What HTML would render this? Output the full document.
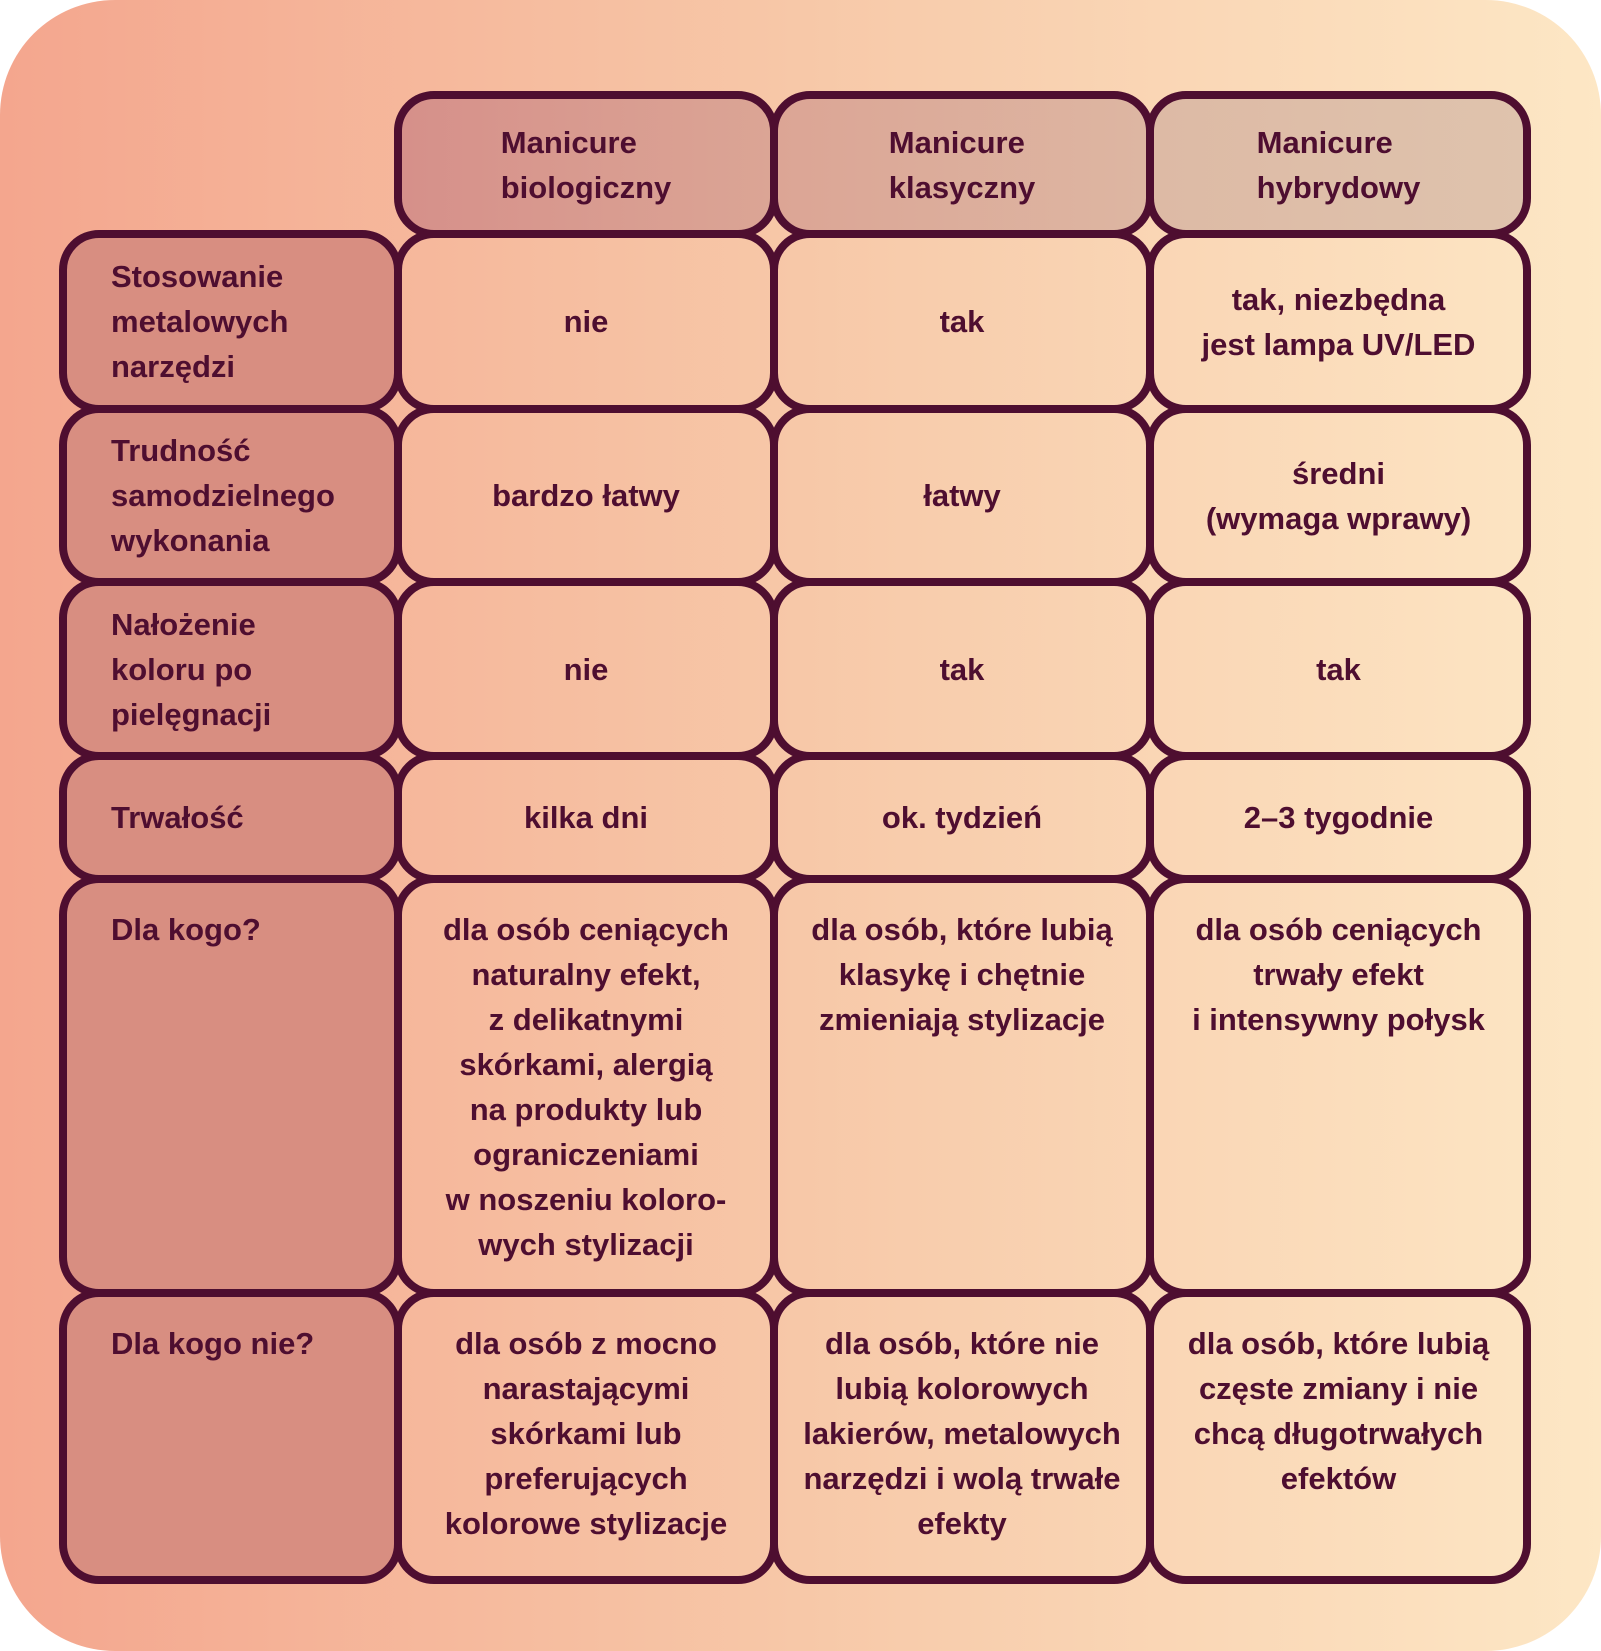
<!DOCTYPE html>
<html><head><meta charset="utf-8">
<style>
html,body{margin:0;padding:0;}
body{width:1601px;height:1651px;position:relative;overflow:hidden;background:#fff;font-family:"Liberation Sans",sans-serif;font-weight:bold;color:#4e0e30;}
.bg{position:absolute;left:0;top:0;width:1601px;height:1651px;border-radius:115px;background:linear-gradient(90deg,#f4a68e 0%,#f7c8a8 50%,#fde7c5 100%);}
.c{position:absolute;box-sizing:border-box;border:8px solid #4e0e30;border-radius:40px;display:flex;align-items:center;justify-content:center;text-align:center;font-size:31px;line-height:45px;white-space:nowrap;}
.l{background:#d88e81;justify-content:flex-start;text-align:left;padding-left:44px;}
.h{background:linear-gradient(90deg,#d6908a,#dba595);}
.h span{display:inline-block;text-align:left;}
.t{align-items:flex-start;padding-top:24px;}
</style></head><body>
<div class="bg"></div>

<div class="c h" style="left:394px;top:91px;width:384px;height:147px;"><span>Manicure<br>biologiczny</span></div>
<div class="c h" style="left:770px;top:91px;width:384px;height:147px;background:linear-gradient(90deg,#dca595,#ddb6a2);"><span>Manicure<br>klasyczny</span></div>
<div class="c h" style="left:1146px;top:91px;width:385px;height:147px;background:linear-gradient(90deg,#ddbaa5,#dfc3ad);"><span>Manicure<br>hybrydowy</span></div>

<div class="c l" style="left:59px;top:230px;width:343px;height:183px;">Stosowanie<br>metalowych<br>narzędzi</div>
<div class="c" style="left:394px;top:230px;width:384px;height:183px;">nie</div>
<div class="c" style="left:770px;top:230px;width:384px;height:183px;">tak</div>
<div class="c" style="left:1146px;top:230px;width:385px;height:183px;">tak, niezbędna<br>jest lampa UV/LED</div>

<div class="c l" style="left:59px;top:405px;width:343px;height:181px;">Trudność<br>samodzielnego<br>wykonania</div>
<div class="c" style="left:394px;top:405px;width:384px;height:181px;">bardzo łatwy</div>
<div class="c" style="left:770px;top:405px;width:384px;height:181px;">łatwy</div>
<div class="c" style="left:1146px;top:405px;width:385px;height:181px;">średni<br>(wymaga wprawy)</div>

<div class="c l" style="left:59px;top:578px;width:343px;height:182px;">Nałożenie<br>koloru po<br>pielęgnacji</div>
<div class="c" style="left:394px;top:578px;width:384px;height:182px;">nie</div>
<div class="c" style="left:770px;top:578px;width:384px;height:182px;">tak</div>
<div class="c" style="left:1146px;top:578px;width:385px;height:182px;">tak</div>

<div class="c l" style="left:59px;top:752px;width:343px;height:131px;">Trwałość</div>
<div class="c" style="left:394px;top:752px;width:384px;height:131px;">kilka dni</div>
<div class="c" style="left:770px;top:752px;width:384px;height:131px;">ok. tydzień</div>
<div class="c" style="left:1146px;top:752px;width:385px;height:131px;">2–3 tygodnie</div>

<div class="c l t" style="left:59px;top:875px;width:343px;height:422px;">Dla kogo?</div>
<div class="c t" style="left:394px;top:875px;width:384px;height:422px;">dla osób ceniących<br>naturalny efekt,<br>z delikatnymi<br>skórkami, alergią<br>na produkty lub<br>ograniczeniami<br>w noszeniu koloro-<br>wych stylizacji</div>
<div class="c t" style="left:770px;top:875px;width:384px;height:422px;">dla osób, które lubią<br>klasykę i chętnie<br>zmieniają stylizacje</div>
<div class="c t" style="left:1146px;top:875px;width:385px;height:422px;">dla osób ceniących<br>trwały efekt<br>i intensywny połysk</div>

<div class="c l t" style="left:59px;top:1289px;width:343px;height:295px;">Dla kogo nie?</div>
<div class="c t" style="left:394px;top:1289px;width:384px;height:295px;">dla osób z mocno<br>narastającymi<br>skórkami lub<br>preferujących<br>kolorowe stylizacje</div>
<div class="c t" style="left:770px;top:1289px;width:384px;height:295px;">dla osób, które nie<br>lubią kolorowych<br>lakierów, metalowych<br>narzędzi i wolą trwałe<br>efekty</div>
<div class="c t" style="left:1146px;top:1289px;width:385px;height:295px;">dla osób, które lubią<br>częste zmiany i nie<br>chcą długotrwałych<br>efektów</div>
</body></html>
